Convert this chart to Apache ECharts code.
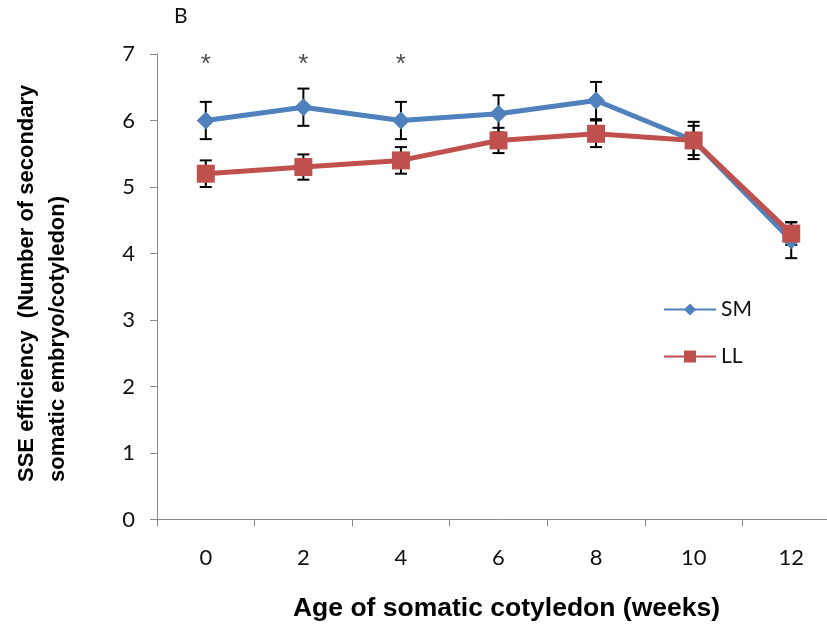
<!DOCTYPE html>
<html>
<head>
<meta charset="utf-8">
<title>SSE efficiency</title>
<script src="https://cdn.jsdelivr.net/npm/echarts@6/dist/echarts.min.js"></script>
<style>
html, body { margin: 0; padding: 0; background: #fff; overflow: hidden; }
/* the x axis runs past the right edge in the original, so the chart is a bit wider than the window */
#main { width: 840px; height: 624px; }
</style>
</head>
<body>
<div id="main"></div>
<script>
// data
var weeks = ['0', '2', '4', '6', '8', '10', '12'];
var smMean = [6.0, 6.2, 6.0, 6.1, 6.3, 5.7, 4.2];
var smErr = [0.28, 0.28, 0.28, 0.28, 0.28, 0.28, 0.27];
var llMean = [5.2, 5.3, 5.4, 5.7, 5.8, 5.7, 4.3];
var llErr = [0.2, 0.19, 0.2, 0.19, 0.2, 0.22, 0.17];
var sigWeeks = ['0', '2', '4'];   // weeks marked with *
var sigLevel = 6.84;

var blue = '#4f81bd';
var red = '#c0504d';

function errData(mean, err) {
	var out = [];
	for (var i = 0; i < mean.length; i++) {
		out.push([i, mean[i] - err[i], mean[i] + err[i]]);
	}
	return out;
}

function renderErr(params, api) {
	var lo = api.coord([api.value(0), api.value(1)]);
	var hi = api.coord([api.value(0), api.value(2)]);
	var w = 6;
	var st = { stroke: '#000', lineWidth: 2 };
	return {
		type: 'group',
		children: [
			{ type: 'line', shape: { x1: hi[0], y1: hi[1], x2: lo[0], y2: lo[1] }, style: st },
			{ type: 'line', shape: { x1: hi[0] - w, y1: hi[1], x2: hi[0] + w, y2: hi[1] }, style: st },
			{ type: 'line', shape: { x1: lo[0] - w, y1: lo[1], x2: lo[0] + w, y2: lo[1] }, style: st }
		]
	};
}

var myChart = echarts.init(document.getElementById('main'));
var axisGray = '#898989';
var tickFont = 'Lato';

var option = {
	animation: false,
	grid: { left: 157, right: 0, top: 54, bottom: 104.5, containLabel: false, outerBoundsMode: 'none' },
	legend: {
		left: 663,
		top: 299,
		padding: 0,
		orient: 'vertical',
		itemWidth: 52,
		itemHeight: 15,
		itemGap: 26,
		data: ['SM', 'LL'],
		textStyle: { fontFamily: tickFont, fontSize: 21, color: '#111' }
	},
	graphic: [
		{
			type: 'text', x: 174, y: 6,
			style: { text: 'B', font: '21px Lato', fill: '#111' }
		},
		{
			type: 'text', x: 11, y: 482, rotation: Math.PI / 2,
			style: {
				text: 'SSE efficiency  (Number of secondary\nsomatic embryo/cotyledon)',
				font: 'bold 22px "Liberation Sans"', fill: '#000',
				textAlign: 'left', textVerticalAlign: 'top', lineHeight: 31
			}
		}
	],
	xAxis: {
		type: 'category',
		data: weeks,
		boundaryGap: true,
		name: 'Age of somatic cotyledon (weeks)',
		nameLocation: 'middle',
		nameGap: 76,
		nameTextStyle: { fontFamily: 'Liberation Sans', fontWeight: 'bold', fontSize: 26.5, color: '#000', padding: [0, 0, 0, 16] },
		axisLine: { lineStyle: { color: axisGray, width: 1 } },
		axisTick: { show: true, length: 7, lineStyle: { color: axisGray } },
		axisLabel: { margin: 27, fontFamily: tickFont, fontSize: 22, color: '#111' },
		splitLine: { show: false }
	},
	yAxis: {
		type: 'value',
		min: 0,
		max: 7,
		interval: 1,
		axisLine: { show: true, lineStyle: { color: axisGray, width: 1 } },
		axisTick: { show: true, length: 7, lineStyle: { color: axisGray } },
		axisLabel: { margin: 22, fontFamily: tickFont, fontSize: 22, color: '#111' },
		splitLine: { show: false }
	},
	series: [
		{
			name: 'SM err', type: 'custom', z: 1,
			renderItem: renderErr, data: errData(smMean, smErr),
			encode: { x: 0, y: [1, 2] }, silent: true
		},
		{
			name: 'LL err', type: 'custom', z: 1,
			renderItem: renderErr, data: errData(llMean, llErr),
			encode: { x: 0, y: [1, 2] }, silent: true
		},
		{
			name: 'SM', type: 'line', z: 3, data: smMean,
			symbol: 'diamond', symbolSize: 18,
			lineStyle: { color: blue, width: 5 },
			itemStyle: { color: blue }
		},
		{
			name: 'LL', type: 'line', z: 4, data: llMean,
			symbol: 'rect', symbolSize: 18,
			lineStyle: { color: red, width: 5 },
			itemStyle: { color: red }
		},
		{
			name: 'sig', type: 'scatter', z: 5, symbolSize: 0,
			data: sigWeeks.map(function (w) { return [w, sigLevel]; }),
			label: {
				show: true, position: 'inside', formatter: '*',
				fontFamily: 'Liberation Sans', fontSize: 26, color: '#222'
			}
		}
	]
};
myChart.setOption(option);
</script>
</body>
</html>
